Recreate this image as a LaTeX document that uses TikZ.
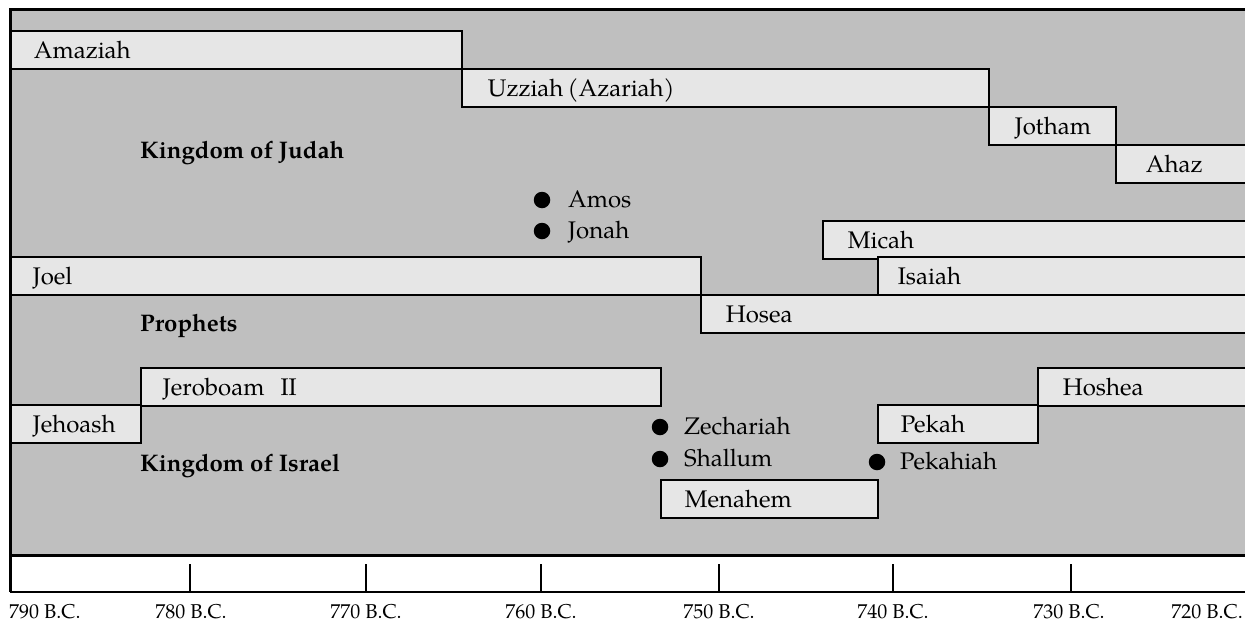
\documentclass[tikz,border=0pt]{standalone}
\usepackage{fontspec}
\setmainfont{texgyrepagella}[Extension=.otf, UprightFont=*-regular, BoldFont=*-bold, ItalicFont=*-italic, BoldItalicFont=*-bolditalic]
\definecolor{bggray}{HTML}{BFBFBF}
\definecolor{boxgray}{HTML}{E6E6E6}
\newcommand{\boxfont}{\fontsize{24}{28}\selectfont}
\newcommand{\headfont}{\fontsize{24}{28}\selectfont\bfseries}
\newcommand{\yearfont}{\fontsize{20}{24}\selectfont}
\newcommand{\reign}[6]{%
  \pgfmathsetmacro{\rw}{#3-#2-2*#5}%
  \node[reignbox, inner xsep=#5pt, text width=\rw pt] (#1) at (#2,#4) {#6};%
}
\tikzset{
  reignbox/.style={draw=black, line width=1.8pt, fill=boxgray, anchor=north west,
    minimum height=38pt, inner ysep=0pt, text height=16.6pt, text depth=0pt,
    align=left, font=\boxfont},
  dotmark/.style={circle, fill=black, inner sep=0pt, minimum size=16.5pt},
  dottext/.style={anchor=base west, inner sep=0pt, font=\boxfont},
  heading/.style={anchor=base west, inner sep=0pt, font=\headfont},
  yearlabel/.style={anchor=base, inner sep=0pt, font=\yearfont},
  tick/.style={line width=1.3pt},
}
\begin{document}
\begin{tikzpicture}[x=1pt, y=-1pt]
\useasboundingbox (0,0) rectangle (1245,624);
% background
\fill[bggray] (10,9) rectangle (1247,555);
\fill[white] (10,555) rectangle (1247,592);
\draw[line width=3pt] (1247,9) -- (10,9) -- (10,592);
\draw[line width=3pt] (10,555) -- (1247,555);
\draw[line width=2pt] (10,592) -- (1247,592);
% kings of Judah
\reign{amaziah}{10}{461}{30}{23}{Amaziah}
\reign{uzziah}{461}{988}{68}{26}{Uzziah\hspace{0.18em}(Azariah)}
\reign{jotham}{988}{1115}{106}{26}{Jotham}
\reign{ahaz}{1115}{1250}{144}{30}{Ahaz}
% prophets
\reign{micah}{822}{1250}{220}{25}{Micah}
\reign{joel}{10}{700}{256}{22}{Joel}
\reign{isaiah}{877}{1250}{256}{20}{Isaiah}
\reign{hosea}{700}{1250}{294}{25}{Hosea}
% kings of Israel
\reign{jeroboam}{140}{660}{367}{22}{Jeroboam\ \ II}
\reign{jehoash}{10}{140}{404}{22}{Jehoash}
\reign{hoshea}{1037}{1250}{367}{25}{Hoshea}
\reign{pekah}{877}{1037}{404}{23}{Pekah}
\reign{menahem}{660}{877}{479}{24}{Menahem}
% headings
\node[heading] (judah) at (140,158) {Kingdom of Judah};
\node[heading] (prophets) at (140,331) {Prophets};
\node[heading] (israel) at (140,471) {Kingdom of Israel};
% short entries
\node[dotmark] (amosdot) at (542,200) {};
\node[dottext] (amos) at (568,207) {Amos};
\node[dotmark] (jonahdot) at (542,231) {};
\node[dottext] (jonah) at (568,238) {Jonah};
\node[dotmark] (zechdot) at (660,427) {};
\node[dottext] (zech) at (684,434) {Zechariah};
\node[dotmark] (shallumdot) at (660,459) {};
\node[dottext] (shallum) at (684,466) {Shallum};
\node[dotmark] (pekahiahdot) at (877,462) {};
\node[dottext] (pekahiah) at (900,469) {Pekahiah};
% ticks
\foreach \x in {190,366,541,719,893,1071} \draw[tick] (\x,564) -- (\x,592);
% year labels
\node[yearlabel, anchor=base west] (y790) at (9,618) {790 B.C.};
\node[yearlabel] (y780) at (191,618) {780 B.C.};
\node[yearlabel] (y770) at (366,618) {770 B.C.};
\node[yearlabel] (y760) at (541,618) {760 B.C.};
\node[yearlabel] (y750) at (719,618) {750 B.C.};
\node[yearlabel] (y740) at (893,618) {740 B.C.};
\node[yearlabel] (y730) at (1069,618) {730 B.C.};
\node[yearlabel, anchor=base east] (y720) at (1243,618) {720 B.C.};
\end{tikzpicture}
\end{document}
